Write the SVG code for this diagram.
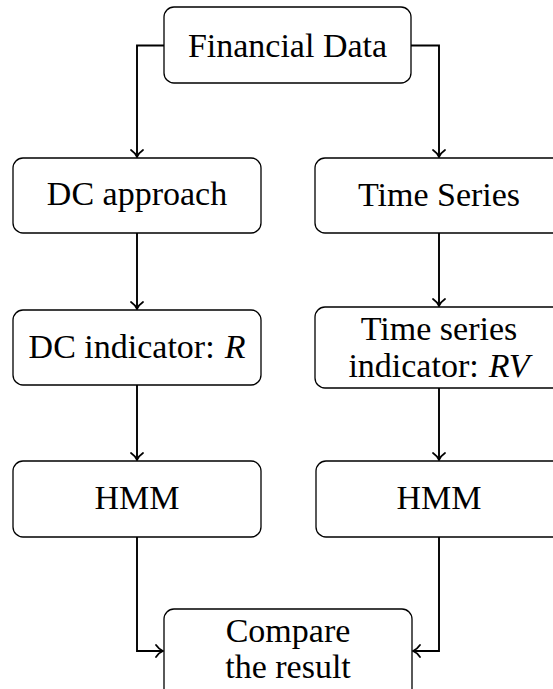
<svg xmlns="http://www.w3.org/2000/svg" width="553" height="689" viewBox="0 0 553 689">
  <style>
    .box { fill: #fff; stroke: #000; stroke-width: 1.3; }
    .edge { fill: none; stroke: #000; stroke-width: 1.9; marker-end: url(#to); }
  </style>
  <defs>
    <marker id="to" markerUnits="userSpaceOnUse" markerWidth="16" markerHeight="16" viewBox="-9 -8 10 16" refX="0" refY="0" orient="auto" overflow="visible">
      <path d="M-7,-6 C-4.5,-2.4 -1.6,-0.6 0,0 C-1.6,0.6 -4.5,2.4 -7,6" fill="none" stroke="#000" stroke-width="1.8" stroke-linecap="round"/>
    </marker>
  </defs>

  <!-- connectors -->
  <g id="connectors">
    <path class="edge" d="M164,45.5 H137 V157"/>
    <path class="edge" d="M411,45.5 H439 V157"/>
    <path class="edge" d="M137,233 V309"/>
    <path class="edge" d="M439,233 V306"/>
    <path class="edge" d="M137,385 V460"/>
    <path class="edge" d="M439,388 V460"/>
    <path class="edge" d="M137,537 V651 H163"/>
    <path class="edge" d="M439,537 V651 H413"/>
  </g>

  <g id="financial-data">
    <rect class="box" x="164" y="7" width="247" height="76" rx="10"/>
    <text x="287.5" y="57" font-family="Liberation Serif" font-size="34" text-anchor="middle">Financial Data</text>
  </g>

  <g id="dc-approach">
    <rect class="box" x="13" y="158" width="248" height="75" rx="10"/>
    <text x="137" y="205" font-family="Liberation Serif" font-size="34" text-anchor="middle">DC approach</text>
  </g>

  <g id="time-series">
    <rect class="box" x="315" y="158" width="248" height="75" rx="10"/>
    <text x="439" y="206" font-family="Liberation Serif" font-size="34" text-anchor="middle">Time Series</text>
  </g>

  <g id="dc-indicator">
    <rect class="box" x="13" y="310" width="248" height="75" rx="10"/>
    <text x="137" y="358" font-family="Liberation Serif" font-size="34" text-anchor="middle">DC indicator:<tspan dx="10" font-style="italic">R</tspan></text>
  </g>

  <g id="ts-indicator">
    <rect class="box" x="315" y="307" width="248" height="81" rx="10"/>
    <text x="439" y="340" font-family="Liberation Serif" font-size="34" text-anchor="middle">Time series</text>
    <text x="439" y="377" font-family="Liberation Serif" font-size="34" text-anchor="middle">indicator:<tspan dx="10" font-style="italic">RV</tspan></text>
  </g>

  <g id="hmm-left">
    <rect class="box" x="13" y="461" width="248" height="76" rx="10"/>
    <text x="137" y="509" font-family="Liberation Serif" font-size="34" text-anchor="middle">HMM</text>
  </g>

  <g id="hmm-right">
    <rect class="box" x="316" y="461" width="247" height="76" rx="10"/>
    <text x="439" y="509" font-family="Liberation Serif" font-size="34" text-anchor="middle">HMM</text>
  </g>

  <g id="compare">
    <rect class="box" x="164" y="609" width="248" height="90" rx="10"/>
    <text x="288" y="642" font-family="Liberation Serif" font-size="34" text-anchor="middle">Compare</text>
    <text x="288" y="678" font-family="Liberation Serif" font-size="34" text-anchor="middle">the result</text>
  </g>
</svg>
